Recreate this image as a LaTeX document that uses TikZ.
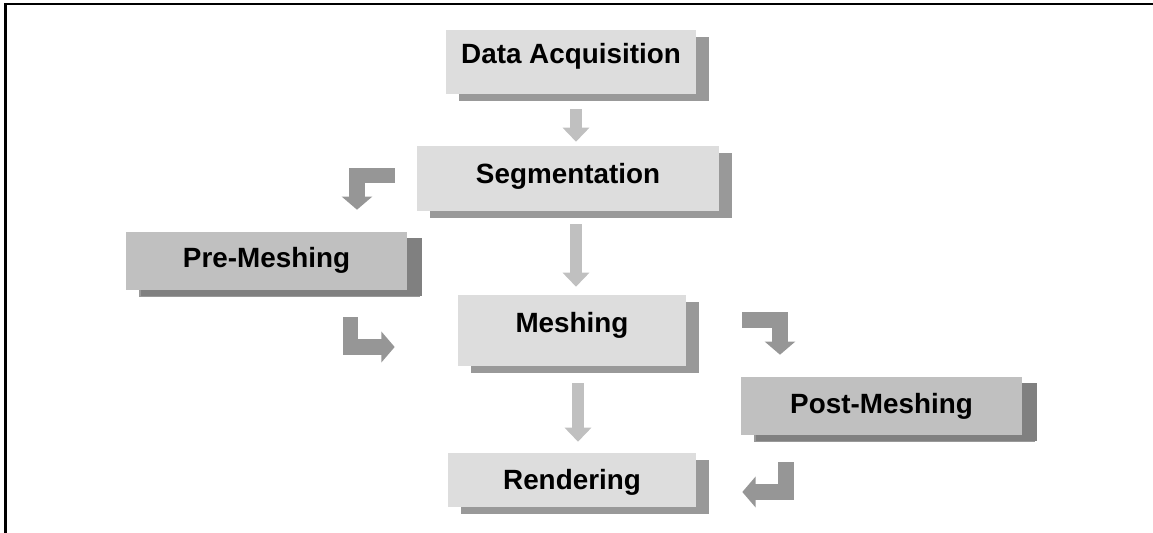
\documentclass[tikz,border=0pt]{standalone}
\usepackage{fontspec}
\setmainfont{Liberation Sans}
\usepackage{tikz}
\usetikzlibrary{calc, shadows, arrows.meta}
\definecolor{boxlight}{HTML}{DDDDDD}
\definecolor{boxdark}{HTML}{C0C0C0}
\definecolor{shadelight}{HTML}{999999}
\definecolor{shadedark}{HTML}{808080}
\definecolor{arrowlight}{HTML}{C0C0C0}
\definecolor{arrowdark}{HTML}{969696}
\tikzstyle{stage} = [rectangle, inner sep=0pt, anchor=base, fill=boxlight, text=black,
	font=\bfseries\fontsize{19.8}{24}\selectfont,
	drop shadow={shadow xshift=0.33cm, shadow yshift=-0.18cm, fill=shadelight, opacity=1}]
\tikzstyle{stagedark} = [stage, fill=boxdark,
	drop shadow={shadow xshift=0.37cm, shadow yshift=-0.16cm, fill=shadedark, opacity=1}]
\tikzstyle{flow} = [draw=arrowlight, line width=0.3cm, -{Triangle[width=0.65cm,length=0.35cm]}]
\tikzstyle{elbow} = [draw=arrowdark, line width=0.38cm, line join=miter, -{Triangle[width=0.75cm,length=0.33cm]}]

\begin{document}
\begin{tikzpicture}[x=0.025cm, y=-0.025cm]
	\useasboundingbox (0,0) rectangle (1153,533);
	\draw[line width=0.05cm] (5.5,533) -- (5.5,4) -- (1153,4);
	\node[stage, minimum width=6.25cm, text height=0.825cm, text depth=0.775cm] (dacq) at (571,63)   {Data Acquisition};
	\node[stage, minimum width=7.55cm, text height=0.925cm, text depth=0.7cm]   (seg)  at (568,183)  {Segmentation};
	\node[stagedark, minimum width=7.025cm, text height=0.875cm, text depth=0.575cm] (pre) at (266.5,267) {Pre-Meshing};
	\node[stage, minimum width=5.7cm, text height=0.925cm, text depth=0.85cm]   (mesh) at (572,332)  {Meshing};
	\node[stagedark, minimum width=7.025cm, text height=0.9cm, text depth=0.55cm] (post) at (881.5,413) {Post-Meshing};
	\node[stage, minimum width=6.2cm, text height=0.9cm, text depth=0.45cm]     (rend) at (572,489)  {Rendering};
	% main line
	\draw[flow] ($(dacq.south)+(5,15)$) -- ($(seg.north)+(8,-4)$);
	\draw[flow] ($(seg.south)+(8,13)$) -- ($(mesh.north)+(4,-8)$);
	\draw[flow] ($(mesh.south)+(6,17)$) -- ($(rend.north)+(6,-11)$);
	% side steps
	\draw[elbow] ($(seg.west)+(-22,-3)$) -| ($(pre.north)+(90.5,-22)$);
	\draw[elbow] ($(pre.south)+(84,27)$) |- ($(mesh.west)+(-63,16.5)$);
	\draw[elbow] ($(mesh.east)+(56,-10.5)$) -| ($(post.north)+(-101.5,-22)$);
	\draw[elbow] ($(post.south)+(-95.5,27)$) |- ($(rend.east)+(46,12)$);
\end{tikzpicture}
\end{document}
